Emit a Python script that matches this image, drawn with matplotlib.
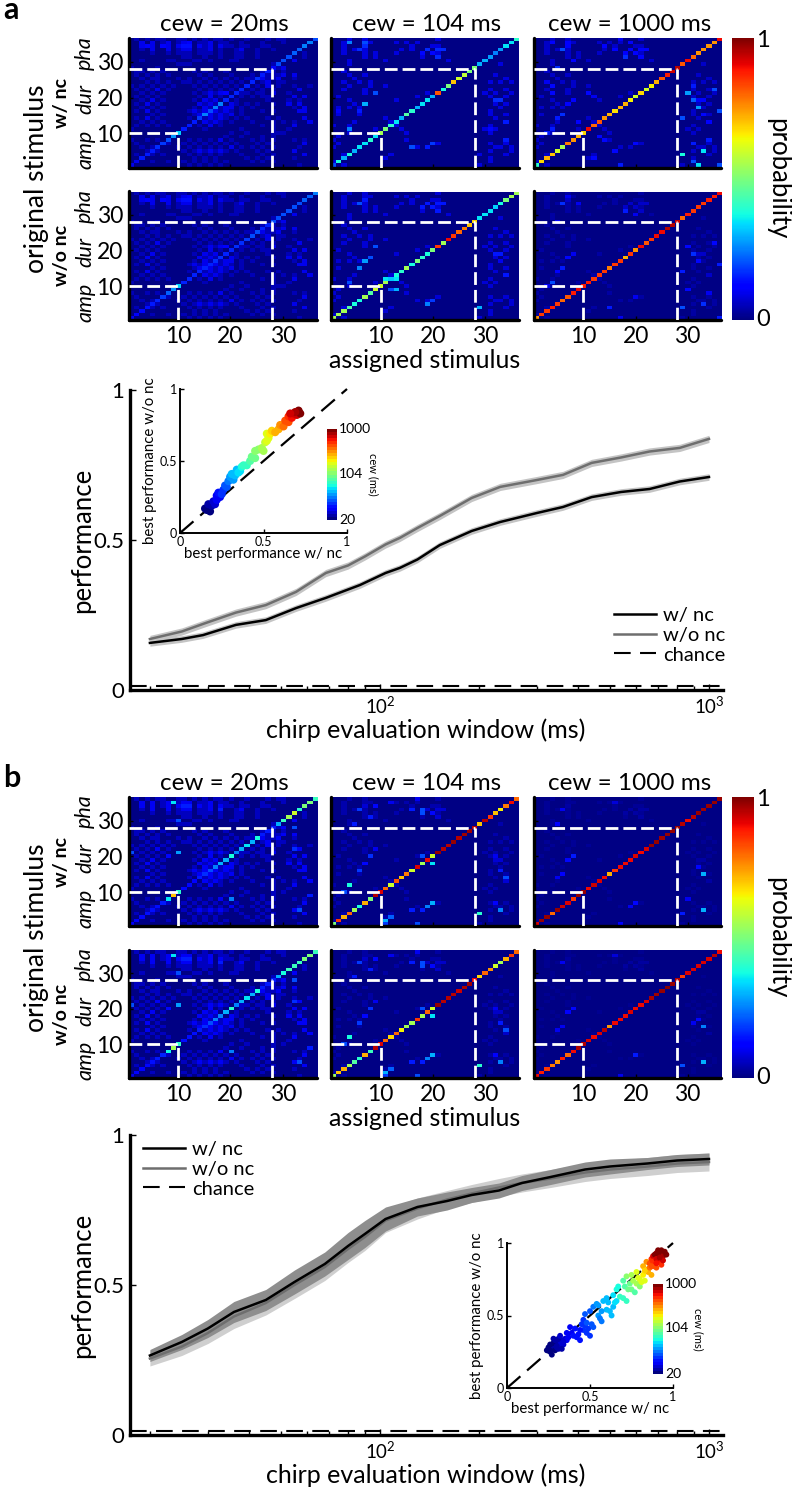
import matplotlib
matplotlib.use('Agg')
import matplotlib.pyplot as plt
import numpy as np
from matplotlib import cm
from matplotlib.colors import Normalize

plt.rcParams['font.family'] = ['Lato', 'DejaVu Sans']
plt.rcParams['mathtext.default'] = 'regular'

W, H = 792, 1487

TEX20 = ["010101100110101011010010001011000000","002020120122011201100100010001000000","002020120233021202110110011000000000",
"001020020122011201001200100100000000","000010010111011101001100100000000100","000000000011001001001100100000000100",
"001000011000110100011000000000020000","000000000111000000000000000100000000","100001000000000000000000000012000000",
"011010100000101000100000012101000000","010101010000010100010001011112020000","001011000101001010101011121120010000",
"000101010011010101010101012011000000","101010101000101010101010102010010010","010102010000010101010101010100002000",
"001010100000101212101110110200100000","010101000000010201020101011000020200","001020100000102120201000001000101000",
"010201000000021212021010100100202000","001010100000102121220101000000010200","010201000001212121210100010100002200",
"000010100000121212120100000000000000","010201000001021212101010001010000200","001010100000102121010001000101010020",
"010101010000010201000000010100020000","100000000000001000000100000100100000","000000000000000000010010000101000000",
"000000000000000000100100010100000000","100101010001010102010001010100010100","010000010010101010101000101000000200",
"001010000101010101020101010100001000","000101000010121212101000101000020000","010010100001010101000100010100000200",
"001000000000101010000010101000010000","010010010010101010100001010100000000","100000000001010101000000000000001000"]
TEX104 = ["000100100000000000001000000000000000","001000110000101010000000000000000000","001000200000000100011000000000000000",
"001010100000010100202200000000000000","001000101000100002021000000000000000","000000101000000001002000000000000000",
"000100000010000000000010000000000000","000100000000000000000000000000001000","000000000000000000000000000000000000",
"001000000000000000000000000000000000","000100100000000000000000000000010000","000010000000000000000000000000000100",
"001001010000000000000000000000101010","000100010010000000000000000000000000","001000100000000000000000000000100100",
"000000100000000000100000000001010010","010000000000000010000000000000100100","000100000000100000000000000000022000",
"000010000000000000000000000000010100","010101000000000000000000000000001000","000000000000000000000000000000100000",
"010001000000000000000000000000100100","000000000010000000000000000000010000","000010000001000000000000000000000200",
"100100000000100000000000000000100000","000000001000010000000000000001010000","000100000000001000000000000000100000",
"010000000000000000000000000000000000","100000010000001000000000000000000000","010000000000000000001000000000100100",
"100000000000000010100000000000011010","000000000000000000000000000000100010","001000000001000000000000000010000100",
"000000000010000000000000000000100000","100000000000000000000000000000100000","001000000000000000000000000010000000"]

DIAG_A20_NC = [.1,.1,.15,.15,.15,.17,.18,.2,.27,.33,.15,.15,.15,.18,.25,.2,.25,.25,.16,.16,.16,.16,.16,.16,.17,.15,.15,.12,.2,.2,.2,.22,.22,.25,.25,.2]
DIAG_A20_WO = [.1,.12,.13,.14,.15,.16,.18,.22,.27,.33,.16,.16,.16,.16,.16,.16,.17,.17,.16,.16,.17,.17,.18,.2,.2,.16,.16,.2,.2,.2,.2,.2,.2,.22,.22,.25]
DIAG_A104_NC = [.2,.38,.3,.38,.3,.35,.35,.4,.35,.55,.5,.4,.35,.3,.45,.4,.3,.35,.35,.3,.82,.38,.5,.7,.6,.58,.5,.5,.3,.3,.28,.25,.28,.35,.35,.4]
DIAG_A104_WO = [.55,.55,.55,.45,.38,.38,.55,.45,.6,.6,.55,.32,.38,.4,.55,.38,.5,.4,.38,.5,.85,.55,.9,.85,.8,.78,.7,.68,.35,.35,.35,.33,.38,.5,.55,.55]
DIAG_A1000_NC = [.4,.68,.72,.7,.6,.55,.78,.75,.72,.68,.9,.8,.82,.75,.72,.67,.72,.72,.65,.6,.68,.6,.65,.72,.82,.88,.93,.95,.82,.9,.8,.75,.75,.75,.75,.9]
DIAG_A1000_WO = [.75,.85,.85,.88,.85,.8,.82,.88,.9,.88,.88,.85,.85,.85,.78,.85,.85,.72,.85,.75,.9,.82,.85,.9,.9,.95,.95,.93,.8,.88,.85,.85,.85,.88,.88,.9]
DIAG_B20_NC = [.12,.12,.13,.14,.14,.14,.15,.35,.7,.4,.13,.13,.12,.15,.17,.2,.25,.3,.3,.38,.25,.3,.35,.3,.38,.15,.15,.15,.3,.42,.55,.6,.4,.5,.5,.42]
DIAG_B20_WO = [.1,.12,.12,.13,.14,.15,.16,.37,.55,.4,.14,.14,.14,.15,.17,.2,.25,.25,.3,.4,.25,.3,.35,.3,.38,.15,.15,.15,.3,.38,.42,.42,.42,.5,.5,.42]
DIAG_B104_NC = [.5,.85,.72,.8,.55,.38,.72,.5,.95,.92,.8,.6,.82,.7,.78,.6,.92,.55,.9,.6,.98,.95,.95,.98,.95,.97,.97,.95,.7,.95,.85,.7,.65,.78,.9,.8]
DIAG_B104_WO = [.55,.7,.72,.55,.45,.4,.72,.42,.95,.92,.8,.68,.8,.65,.55,.55,.85,.55,.8,.6,.98,.95,.95,.95,.93,.96,.97,.9,.68,.8,.75,.6,.55,.72,.85,.8]
DIAG_B1000_NC = [.92,.98,.98,.8,.98,.93,.92,.85,.98,.98,.9,.93,.92,.9,.72,.85,.9,.9,.9,.92,.9,.92,.98,.98,.97,.98,.98,.98,.95,.9,.95,.98,.97,.98,.98,.98]
DIAG_B1000_WO = [.9,.88,.85,.78,.75,.88,.8,.9,.96,.95,.92,.9,.92,.95,.75,.9,.9,.9,.92,.9,.9,.92,.96,.97,.98,.99,.98,.95,.85,.92,.92,.92,.92,.92,.95,.9]

SPOTS_A20 = [(12,35,.12),(4,34,.11),(7,34,.11),(19,21,.12),(29,10,.05)]
SPOTS_A104 = [(4,35,.25),(7,35,.2),(6,33,.17),(7,18,.3),(4,11,.25),(9,21,.2),(16,6,.2),(20,7,.18),(19,6,.15),(20,32,.13),(18,32,.13),
 (2,16,.12),(6,16,.15),(33,19,.17),(34,13,.15),(31,11,.13),(34,8,.15),(12,12,.15),(11,11,.13)]
SPOTS_A104_WO = [(7,17,.28),(8,18,.2),(6,15,.25),(9,21,.2),(4,11,.2),(11,12,.35),(13,12,.35),(13,9,.3),(12,9,.2),(20,6,.18),(19,5,.25),(29,4,.3),(33,17,.1),(6,33,.2)]
SPOTS_A1000_NC = [(4,35,.12),(7,35,.12),(6,33,.2),(8,30,.12),(5,28,.17),(3,24,.1),(4,23,.13),(4,21,.13),(11,21,.13),(12,20,.1),(7,18,.12),(8,19,.12),
 (6,15,.17),(5,14,.15),(9,13,.12),(4,11,.15),(3,10,.15),(30,21,.28),(31,19,.22),(32,17,.28),(33,15,.13),(36,16,.2),(29,14,.2),(35,22,.2),(31,23,.15),
 (33,5,.35),(29,4,.38),(31,7,.15),(34,8,.15),(32,1,.35),(36,1,.2),(31,2,.2),(17,1,.15),(16,5,.13),(20,7,.13),(12,3,.13),(13,9,.13),(14,8,.13),(18,31,.17),
 (16,33,.12),(14,34,.12),(19,35,.12),(17,36,.1),(1,1,.38)]
SPOTS_A1000_WO = [(6,33,.17),(7,35,.1),(9,33,.1),(5,28,.12),(18,31,.15),(20,30,.1),(8,19,.1),(7,18,.13),(6,15,.15),(5,14,.12),(4,11,.2),(3,10,.1),
 (30,21,.13),(31,19,.17),(32,17,.13),(36,16,.15),(29,14,.15),(35,22,.13),(33,5,.17),(29,4,.2),(30,9,.13),(34,8,.1),(36,1,.15),(17,1,.1),(15,4,.15),(20,7,.1)]
SPOTS_B20 = [(9,35,.35),(10,21,.28),(1,21,.2),(8,20,.13),(4,4,.3),(20,8,.25),(33,5,.2),(32,28,.2),(32,22,.17),(35,9,.15),(18,33,.15),(10,30,.2)]
SPOTS_B104 = [(4,12,.38),(3,10,.2),(6,16,.18),(7,18,.13),(8,20,.17),(9,22,.1),(6,33,.18),(8,31,.15),(9,34,.13),(12,35,.1),(16,33,.15),(18,33,.2),(18,32,.2),
 (20,32,.13),(17,36,.1),(5,29,.15),(18,20,.2),(19,19,.25),(20,18,.35),(11,2,.3),(12,3,.22),(11,1,.18),(16,5,.15),(18,5,.15),(19,6,.25),(20,7,.3),(17,1,.2),
 (29,4,.4),(33,5,.25),(34,14,.2),(33,16,.15),(32,20,.1),(32,7,.12)]
SPOTS_B1000_NC = [(8,20,.15),(7,19,.13),(5,29,.12),(33,15,.3),(33,5,.3),(32,17,.13),(29,4,.15),(20,7,.13),(17,1,.12),(19,6,.1),(6,33,.1),(6,15,.12),(5,14,.1),(30,8,.1),(16,35,.08)]
SPOTS_B1000_WO = [(8,20,.13),(7,19,.12),(33,15,.25),(33,5,.3),(32,17,.13),(29,4,.2),(20,7,.15),(17,1,.1),(6,33,.1),(6,15,.1),(5,14,.1),(31,16,.1),(16,35,.08)]

TITLES = ['cew = 20ms', 'cew = 104 ms', 'cew = 1000 ms']
ROW_NAMES = ['w/ nc', 'w/o nc']
STIM_NAMES = ['amp', 'dur', 'pha']
STIM_POS = [5.5, 19.5, 32.5]

LINE_A_X_NC = [20,25,29,36.5,45,55.6,68.5,87,104,115,130,152,190,232,300,360,440,540,660,815,1000]
LINE_A_NC = [.157,.17,.183,.217,.233,.273,.307,.35,.39,.407,.435,.483,.53,.56,.59,.61,.643,.66,.67,.695,.71]
LINE_A_X_WO = [20,25,29.5,36.5,45,55.6,68.5,80,90,104,115,130,152,190,232,300,360,440,540,660,815,1000]
LINE_A_WO = [.17,.195,.223,.258,.283,.327,.39,.415,.445,.485,.507,.54,.58,.64,.677,.70,.717,.757,.775,.795,.807,.837]
LINE_B_X = [20,25,30,36,45,55,68,80,90,104,130,160,190,230,270,330,420,500,650,800,1000]
LINE_B_NC = [.265,.31,.355,.41,.45,.51,.57,.63,.67,.72,.76,.78,.80,.815,.84,.86,.885,.895,.905,.915,.92]
LINE_B_WO = [.255,.295,.34,.395,.44,.50,.56,.62,.66,.715,.755,.785,.805,.825,.84,.855,.875,.885,.895,.905,.91]
ERR_B_NC = [.02,.025,.03,.035,.035,.04,.04,.045,.045,.04,.03,.03,.025,.025,.025,.025,.025,.025,.02,.02,.02]
ERR_B_WO = [.025,.03,.035,.04,.04,.045,.045,.045,.045,.04,.035,.03,.03,.03,.03,.03,.03,.03,.03,.03,.03]
CHANCE = 0.014

INSET_A_X = [.15,.16,.17,.18,.17,.19,.21,.20,.22,.22,.24,.23,.25,.26,.27,.28,.29,.30,.32,.31,.33,.34,.35,.36,.37,.38,.40,.42,.43,.45,.45,.47,.49,.50,.51,.52,.53,.52,.54,.55,.57,.59,.60,.62,.63,.65,.65,.67,.68,.70,.71,.72,.69,.66]
INSET_A_Y = [.17,.16,.18,.15,.20,.19,.20,.22,.23,.26,.25,.28,.27,.30,.33,.32,.36,.39,.37,.41,.40,.44,.42,.43,.46,.47,.47,.50,.53,.52,.57,.58,.59,.57,.63,.64,.66,.69,.69,.71,.70,.72,.75,.74,.78,.77,.81,.80,.83,.82,.85,.83,.84,.83]
INSET_A_C = [0,.02,.03,0,.05,.06,.07,.09,.1,.12,.13,.15,.17,.19,.21,.22,.25,.27,.28,.3,.31,.33,.34,.36,.37,.4,.42,.45,.47,.48,.5,.52,.55,.56,.59,.6,.62,.63,.65,.67,.7,.73,.76,.78,.8,.82,.85,.87,.9,.93,.97,1,.96,.91]

INSET_B_X = [.24,.25,.26,.27,.27,.28,.29,.30,.30,.31,.32,.33,.34,.28,.33,.35,.36,.37,.38,.39,.40,.41,.42,.43,.44,.46,.47,.45,.47,.48,.49,.50,.46,.50,.52,.51,.52,.54,.55,.56,.57,.58,.60,.60,.62,.63,.64,.64,.66,.66,.67,.70,.72,.70,.72,.74,.75,.75,.77,.78,.78,.80,.80,.82,.82,.83,.84,.85,.85,.86,.87,.87,.88,.88,.89,.90,.90,.91,.92,.92,.93,.93,.94,.95,.91,.89,.94,.96,
 .26,.28,.29,.31,.32,.34,.30,.36,.44,.48,.55,.57,.61,.65,.68,.71,.73,.76,.79,.81,.83,.86,.88,.89,.90,.91,.92,.93,.90,.87]
INSET_B_Y = [.26,.28,.25,.27,.23,.29,.26,.28,.31,.27,.30,.33,.30,.34,.27,.34,.33,.35,.42,.38,.36,.41,.35,.37,.33,.47,.51,.44,.43,.38,.41,.36,.40,.53,.56,.44,.42,.58,.50,.48,.46,.60,.62,.54,.53,.50,.56,.64,.68,.60,.70,.62,.60,.74,.77,.72,.78,.68,.66,.80,.72,.75,.70,.78,.84,.74,.87,.80,.82,.86,.89,.78,.84,.91,.86,.93,.83,.90,.94,.87,.92,.85,.91,.94,.95,.88,.88,.92,
 .30,.31,.33,.34,.36,.32,.29,.38,.40,.45,.57,.53,.59,.59,.63,.70,.68,.74,.76,.73,.81,.83,.87,.92,.89,.93,.90,.95,.86,.84]
INSET_B_C = [0,.02,0,.03,.01,.04,.03,.05,.06,.05,.07,.08,.07,.06,.06,.09,.1,.11,.13,.13,.14,.15,.14,.15,.14,.18,.2,.17,.18,.17,.19,.18,.17,.22,.24,.22,.21,.27,.27,.26,.25,.3,.32,.31,.32,.31,.33,.36,.38,.36,.39,.42,.4,.45,.5,.48,.55,.47,.45,.6,.55,.6,.52,.65,.72,.6,.76,.7,.72,.8,.85,.7,.8,.9,.85,.95,.8,.92,1,.88,.97,.85,.95,1,.98,.88,.9,.97,
 .02,.03,.04,.06,.07,.08,.05,.1,.16,.2,.28,.27,.32,.35,.4,.46,.48,.55,.6,.62,.68,.78,.85,.97,.92,1,.95,.98,.88,.8]


def axpx(x0, y0, x1, y1):
    return fig.add_axes([x0 / W, 1 - y1 / H, (x1 - x0) / W, (y1 - y0) / H])


def tx(x, y, s, **kw):
    kw.setdefault('ha', 'center')
    kw.setdefault('va', 'center')
    fig.text(x / W, 1 - y / H, s, **kw)


def matrix(tex, weight, diag, spots):
    m = np.array([[int(c) * weight for c in row] for row in tex[::-1]], dtype=float) + 0.005
    for c, r, v in spots:
        m[r - 1, c - 1] = v
    for i, v in enumerate(diag):
        m[i, i] = v
    return m


fig = plt.figure(figsize=(W / 100, H / 100), dpi=100)
COLS = [(128.5, 316.7), (331, 519), (534, 721.5)]


def heat_block(rows, panels):
    for ri, (y0, y1) in enumerate(rows):
        for ci, (x0, x1) in enumerate(COLS):
            ax = axpx(x0, y0, x1, y1)
            ax.imshow(matrix(*panels[ri][ci]), cmap='jet', vmin=0, vmax=1, origin='lower',
                      extent=(.5, 36.5, .5, 36.5), aspect='auto', interpolation='nearest')
            for s in ['top', 'right']:
                ax.spines[s].set_visible(False)
            for s in ['left', 'bottom']:
                ax.spines[s].set_linewidth(2.4)
                ax.spines[s].set_capstyle('round')
            ax.set_xticks([10, 20, 30])
            ax.set_yticks([10, 20, 30])
            ax.tick_params(direction='in', length=3, width=1, colors='black')
            ax.tick_params(labelbottom=ri == 1, labelleft=ci == 0, labelsize=16.5, pad=4)
            for q in [10, 28]:
                ax.plot([.5, q], [q, q], color='white', lw=2, dashes=(4.6, 1.8), zorder=3)
                ax.plot([q, q], [.5, q], color='white', lw=2, dashes=(4.6, 1.8), zorder=3)
            ax.set_xlim(.5, 36.5)
            ax.set_ylim(.5, 36.5)
            if ri == 0:
                tx((x0 + x1) / 2 + 2, y0 - 14, TITLES[ci], fontsize=17.5)
        ymid = (y0 + y1) / 2
        tx(62, ymid, ROW_NAMES[ri], rotation=90, fontsize=14, fontweight='bold')
        for name, p in zip(STIM_NAMES, STIM_POS):
            ypx = y1 - (p - .5) / 36 * (y1 - y0)
            tx(85, ypx, name, rotation=90, fontsize=15.5, style='italic')
    y0, y1 = rows[0][0], rows[1][1]
    cax = axpx(732, y0, 754, y1)
    cb = fig.colorbar(cm.ScalarMappable(Normalize(0, 1), 'jet'), cax=cax)
    cb.outline.set_visible(False)
    cb.set_ticks([])
    tx(763, y0 + 2, '1', fontsize=17)
    tx(763, y1, '0', fontsize=17)
    tx(778, (y0 + y1) / 2, 'probability', rotation=270, fontsize=18.5)
    tx(37, (y0 + y1) / 2, 'original stimulus', rotation=90, fontsize=19)
    tx(425, y1 + 41, 'assigned stimulus', fontsize=18)


PANELS_A = [[(TEX20, .045, DIAG_A20_NC, SPOTS_A20), (TEX104, .08, DIAG_A104_NC, SPOTS_A104), (TEX104, .06, DIAG_A1000_NC, SPOTS_A1000_NC)],
            [(TEX20, .045, DIAG_A20_WO, SPOTS_A20), (TEX104, .07, DIAG_A104_WO, SPOTS_A104_WO), (TEX104, .03, DIAG_A1000_WO, SPOTS_A1000_WO)]]
PANELS_B = [[(TEX20, .05, DIAG_B20_NC, SPOTS_B20), (TEX104, .035, DIAG_B104_NC, SPOTS_B104), (TEX104, .015, DIAG_B1000_NC, SPOTS_B1000_NC)],
            [(TEX20, .05, DIAG_B20_WO, SPOTS_B20), (TEX104, .03, DIAG_B104_WO, SPOTS_B104), (TEX104, .012, DIAG_B1000_WO, SPOTS_B1000_WO)]]
heat_block([(38.3, 167.5), (191.5, 320)], PANELS_A)
heat_block([(797.3, 926), (950, 1078)], PANELS_B)


def perf_axes(ytop, ybot):
    ax = axpx(130, ytop, 723, ybot)
    ax.set_xscale('log')
    ax.set_xlim(17.4, 1103)
    ax.set_ylim(0, 1)
    for s in ['top', 'right']:
        ax.spines[s].set_visible(False)
    for s in ['left', 'bottom']:
        ax.spines[s].set_linewidth(2.4)
    ax.set_yticks([0, .5, 1])
    ax.set_yticklabels(['0', '0.5', '1'])
    ax.tick_params(axis='both', which='major', direction='in', length=4.5, width=1, labelsize=16, pad=4)
    ax.tick_params(axis='x', which='major', labelsize=13.5, pad=4)
    ax.tick_params(axis='x', which='minor', direction='in', length=3, width=1, labelbottom=False)
    ax.set_xticks([100, 1000])
    ax.set_xticklabels(['$10^{2}$', '$10^{3}$'])
    ax.set_xticks([20, 30, 40, 50, 60, 70, 80, 90, 200, 300, 400, 500, 600, 700, 800, 900], minor=True)
    ax.patch.set_alpha(0)
    tx(83, (ytop + ybot) / 2, 'performance', rotation=90, fontsize=18.5)
    tx(426, ybot + 40, 'chirp evaluation window (ms)', fontsize=18)
    return ax


def add_legend(ax, x, y):
    ax.legend(handles=[ax.lines[1], ax.lines[0], ax.lines[2]], labels=['w/ nc', 'w/o nc', 'chance'],
              loc='upper left', bbox_to_anchor=(x / W, 1 - y / H), bbox_transform=fig.transFigure,
              frameon=False, fontsize=14.5, handlelength=2.1, handletextpad=.35, labelspacing=.13, borderpad=0, borderaxespad=0)


ax = perf_axes(390, 690)
ax.fill_between(LINE_A_X_WO, np.array(LINE_A_WO) - .012, np.array(LINE_A_WO) + .012, color='#c4c4c4', lw=0)
ax.fill_between(LINE_A_X_NC, np.array(LINE_A_NC) - .011, np.array(LINE_A_NC) + .011, color='#c4c4c4', lw=0)
ax.plot(LINE_A_X_WO, LINE_A_WO, color='#6e6e6e', lw=1.8)
ax.plot(LINE_A_X_NC, LINE_A_NC, color='black', lw=1.8)
ax.axhline(CHANCE, color='black', lw=1.5, dashes=(8, 4.5))
add_legend(ax, 614, 607)

ax = perf_axes(1135, 1435)
ax.fill_between(LINE_B_X, np.array(LINE_B_WO) - np.array(ERR_B_WO), np.array(LINE_B_WO) + np.array(ERR_B_WO), color='#cfcfcf', lw=0)
ax.fill_between(LINE_B_X, np.array(LINE_B_NC) - np.array(ERR_B_NC), np.array(LINE_B_NC) + np.array(ERR_B_NC), color='#8e8e8e', lw=0)
ax.plot(LINE_B_X, LINE_B_WO, color='#6e6e6e', lw=1.8)
ax.plot(LINE_B_X, LINE_B_NC, color='black', lw=1.8)
ax.axhline(CHANCE, color='black', lw=1.5, dashes=(8, 4.5))
add_legend(ax, 143, 1141)


def inset(x0, y0, x1, y1, xs, ys, cs, size, cbx, cby, labx):
    ax = axpx(x0, y0, x1, y1)
    ax.set_xlim(0, 1)
    ax.set_ylim(0, 1)
    ax.patch.set_alpha(0)
    for s in ['top', 'right']:
        ax.spines[s].set_visible(False)
    for s in ['left', 'bottom']:
        ax.spines[s].set_linewidth(1.4)
    ax.plot([0, 1], [0, 1], color='black', lw=1.6, dashes=(8, 4), zorder=1, clip_on=False)
    ax.scatter(xs, ys, c=cs, cmap=plt.get_cmap('jet', 30), vmin=0, vmax=1, s=size, lw=0, zorder=2, clip_on=False)
    ax.set_xticks([0, .5, 1])
    ax.set_yticks([0, .5, 1])
    ax.set_xticklabels(['0', '0.5', '1'])
    ax.set_yticklabels(['0', '0.5', '1'])
    ax.tick_params(direction='in', length=3, width=1, labelsize=9, pad=2)
    tx((x0 + x1) / 2, y1 + 21, 'best performance w/ nc', fontsize=10.8)
    tx(x0 - 30, (y0 + y1) / 2, 'best performance w/o nc', rotation=90, fontsize=10.8)
    cax = axpx(cbx[0], cby[0], cbx[1], cby[1])
    cb = fig.colorbar(cm.ScalarMappable(Normalize(0, 1), plt.get_cmap('jet', 30)), cax=cax)
    cb.outline.set_visible(False)
    cb.set_ticks([])
    for lab, yy in [('1000', cby[0]), ('104', (cby[0] + cby[1]) / 2 - 1), ('20', cby[1])]:
        tx(cbx[1] + 2, yy, lab, fontsize=10, ha='left')
    tx(labx, (cby[0] + cby[1]) / 2, 'cew (ms)', rotation=270, fontsize=8)


inset(180, 389, 347, 533, INSET_A_X, INSET_A_Y, INSET_A_C, 34, (327, 337), (429, 520), 373)
inset(507, 1243, 673, 1388, INSET_B_X, INSET_B_Y, INSET_B_C, 18, (653, 663), (1284, 1374), 698)

tx(3, 19, 'a', fontsize=22, fontweight='bold', ha='left', va='baseline')
tx(3, 787, 'b', fontsize=22, fontweight='bold', ha='left', va='baseline')

fig.savefig('out.png', dpi=100)
